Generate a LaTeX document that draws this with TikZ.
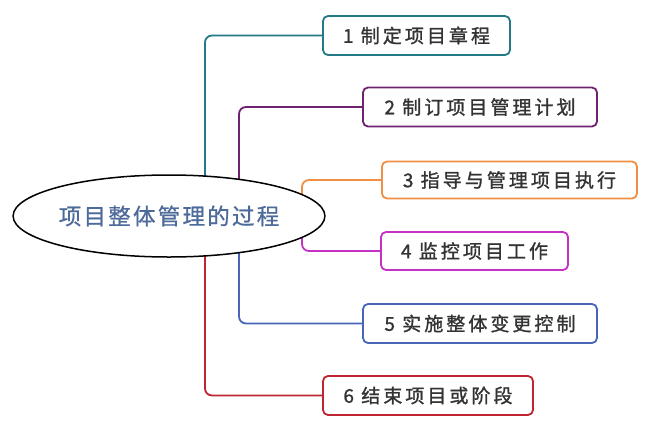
\documentclass[tikz,border=0pt]{standalone}
\usepackage{fontspec}
\usetikzlibrary{shapes.geometric,backgrounds}
\newfontfamily\cjkbox[LetterSpace=16,FakeBold=1.2]{Noto Sans CJK SC}
\newfontfamily\cjkmain[LetterSpace=10,FakeBold=0.8]{Noto Sans CJK SC}
\definecolor{cteal}{HTML}{237A86}
\definecolor{cpurple}{HTML}{6E2270}
\definecolor{corange}{HTML}{EE8F45}
\definecolor{cmagenta}{HTML}{C531C5}
\definecolor{cblue}{HTML}{4766B8}
\definecolor{cred}{HTML}{BE2530}
\definecolor{ctext}{HTML}{333333}
\definecolor{cmain}{HTML}{4D6A9A}
\tikzset{
  procbox/.style={draw=#1, line width=1.8pt, rounded corners=5pt, fill=white,
    minimum height=39pt, inner sep=0pt, font=\cjkbox\fontsize{19}{21}\selectfont, text=ctext},
  link/.style={draw=#1, line width=1.8pt, rounded corners=7pt},
  mainell/.style={ellipse, draw=black, line width=1.5pt, fill=white, inner sep=0pt,
    minimum width=308pt, minimum height=82pt, font=\cjkmain\fontsize{22.5}{24}\selectfont, text=cmain}
}
\begin{document}
\begin{tikzpicture}[x=1pt,y=-1pt]
\useasboundingbox (0,0) rectangle (654,432);
\node[mainell] (e) at (169,216) {项目整体管理的过程};
\node[procbox=cteal, minimum width=187pt] (b1) at (416.5,35.5) {1 制定项目章程};
\node[procbox=cpurple, minimum width=234pt] (b2) at (480,107) {2 制订项目管理计划};
\node[procbox=corange, minimum width=255pt, minimum height=37pt] (b3) at (509.5,180) {3 指导与管理项目执行};
\node[procbox=cmagenta, minimum width=187pt, minimum height=38pt] (b4) at (474.5,251) {4 监控项目工作};
\node[procbox=cblue, minimum width=234pt] (b5) at (480,323.5) {5 实施整体变更控制};
\node[procbox=cred, minimum width=210pt] (b6) at (428,395.5) {6 结束项目或阶段};
\coordinate (s1) at (205,216);
\coordinate (s2) at (239,216);
\coordinate (s3) at (302,216);
\begin{pgfonlayer}{background}
\draw[link=cteal] (s1) |- (b1.west);
\draw[link=cpurple] (s2) |- (b2.west);
\draw[link=corange] (s3) |- (b3.west);
\draw[link=cmagenta] (s3) |- (b4.west);
\draw[link=cblue] (s2) |- (b5.west);
\draw[link=cred] (s1) |- (b6.west);
\end{pgfonlayer}
\end{tikzpicture}
\end{document}
